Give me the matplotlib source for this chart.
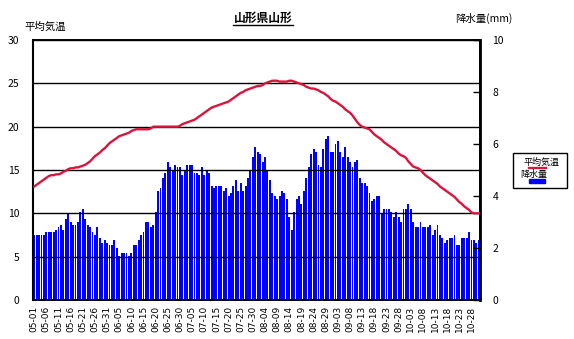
import matplotlib
matplotlib.use("Agg")
import matplotlib.pyplot as plt
from matplotlib.lines import Line2D
from matplotlib.patches import Rectangle
import pandas as pd

plt.rcParams['font.family'] = ['Noto Sans CJK JP', 'DejaVu Sans']

# 日付 (05-01 〜 10-31)
days = list(pd.date_range("2001-05-01", "2001-10-31").strftime("%m-%d"))

# 平均気温 (℃)
temp = [
    13.1, 13.3, 13.5, 13.7, 13.9, 14.1, 14.3, 14.4, 14.4, 14.5,
    14.5, 14.6, 14.8, 14.9, 15.1, 15.2, 15.2, 15.3, 15.3, 15.4,
    15.5, 15.6, 15.8, 16.0, 16.3, 16.6, 16.8, 17.0, 17.3, 17.5,
    17.8, 18.1, 18.3, 18.5, 18.7, 18.9, 19.0, 19.1, 19.2, 19.3,
    19.5, 19.6, 19.7, 19.7, 19.7, 19.7, 19.7, 19.7, 19.8, 20.0,
    20.0, 20.0, 20.0, 20.0, 20.0, 20.0, 20.0, 20.0, 20.0, 20.0,
    20.1, 20.3, 20.4, 20.5, 20.6, 20.7, 20.8, 21.0, 21.2, 21.4,
    21.6, 21.8, 22.0, 22.2, 22.3, 22.4, 22.5, 22.6, 22.7, 22.8,
    22.9, 23.1, 23.3, 23.5, 23.7, 23.9, 24.0, 24.2, 24.3, 24.4,
    24.5, 24.6, 24.7, 24.7, 24.8, 25.0, 25.1, 25.2, 25.3, 25.3,
    25.3, 25.2, 25.2, 25.2, 25.2, 25.3, 25.3, 25.2, 25.1, 25.0,
    24.9, 24.8, 24.6, 24.5, 24.4, 24.4, 24.3, 24.2, 24.0, 23.9,
    23.7, 23.5, 23.2, 23.0, 22.9, 22.7, 22.5, 22.3, 22.0, 21.8,
    21.6, 21.3, 20.9, 20.5, 20.2, 20.0, 19.9, 19.8, 19.7, 19.4,
    19.1, 18.9, 18.7, 18.5, 18.2, 18.0, 17.8, 17.6, 17.4, 17.2,
    16.9, 16.7, 16.6, 16.4, 16.0, 15.7, 15.4, 15.3, 15.2, 15.0,
    14.7, 14.4, 14.2, 14.0, 13.8, 13.6, 13.4, 13.1, 12.9, 12.7,
    12.5, 12.3, 12.1, 11.9, 11.6, 11.3, 11.1, 10.8, 10.6, 10.4,
    10.1, 10.0, 10.0, 10.0,
]

# 降水量 (mm)
rain = [
    2.5, 2.5, 2.5, 2.5, 2.5, 2.6, 2.6, 2.6, 2.6, 2.7,
    2.8, 2.9, 2.7, 3.1, 3.3, 3.0, 2.9, 2.9, 3.0, 3.4,
    3.5, 3.1, 2.9, 2.8, 2.6, 2.5, 2.8, 2.4, 2.2, 2.3,
    2.2, 2.1, 2.1, 2.3, 2.0, 1.7, 1.8, 1.8, 1.8, 1.7,
    1.8, 2.1, 2.1, 2.3, 2.5, 2.6, 3.0, 3.0, 2.8, 2.9,
    3.4, 4.2, 4.3, 4.7, 4.9, 5.3, 5.1, 5.0, 5.2, 5.1,
    5.1, 4.8, 5.0, 5.2, 5.2, 5.2, 4.9, 4.9, 4.8, 5.1,
    4.8, 5.0, 4.9, 4.4, 4.3, 4.4, 4.4, 4.4, 4.2, 4.3,
    4.0, 4.1, 4.4, 4.6, 4.2, 4.5, 4.2, 4.4, 4.7, 5.0,
    5.5, 5.9, 5.7, 5.6, 5.3, 5.5, 5.0, 4.6, 4.1, 4.0,
    3.9, 4.0, 4.2, 4.1, 3.9, 3.2, 2.7, 3.4, 3.9, 4.0,
    3.7, 4.2, 4.7, 5.1, 5.6, 5.8, 5.7, 5.2, 5.1, 5.8,
    6.2, 6.3, 5.7, 5.7, 6.0, 6.1, 5.7, 5.5, 5.9, 5.5,
    5.3, 5.1, 5.3, 5.4, 4.7, 4.5, 4.5, 4.4, 4.1, 3.8,
    3.9, 4.0, 4.0, 3.3, 3.5, 3.5, 3.5, 3.4, 3.2, 3.4,
    3.2, 3.0, 3.5, 3.5, 3.7, 3.5, 3.0, 2.8, 2.8, 3.0,
    2.8, 2.8, 2.8, 2.9, 2.5, 2.7, 2.9, 2.5, 2.4, 2.2,
    2.3, 2.4, 2.4, 2.5, 2.1, 2.1, 2.4, 2.4, 2.4, 2.6,
    2.3, 2.3, 2.2, 2.3,
]

tick_labels = [
    "05-01", "05-06", "05-11", "05-16", "05-21", "05-26", "05-31",
    "06-05", "06-10", "06-15", "06-20", "06-25", "06-30",
    "07-05", "07-10", "07-15", "07-20", "07-25", "07-30",
    "08-04", "08-09", "08-14", "08-19", "08-24", "08-29",
    "09-03", "09-08", "09-13", "09-18", "09-23", "09-28",
    "10-03", "10-08", "10-13", "10-18", "10-23", "10-28",
]

x = list(range(len(days)))
tick_pos = [days.index(t) for t in tick_labels]

fig = plt.figure(figsize=(5.74, 3.39), dpi=100)
W, H = 574, 339
ax = fig.add_axes([33 / W, 1 - 300 / H, (480 - 33) / W, (300 - 40) / H])
ax2 = ax.twinx()

# 降水量 (右軸)
ax.bar(x, rain, width=0.78, color='#0000FF', zorder=1)
ax.set_ylim(0, 10)
ax.set_xlim(-0.5, len(days) - 0.5)
ax.set_xticks(tick_pos)
ax.set_xticklabels(tick_labels, rotation=90, fontsize=6.5, family='DejaVu Sans')
ax.tick_params(axis='x', length=0, pad=4)

# 平均気温 (左軸)
ax2.set_ylim(0, 30)
ax2.set_yticks(range(0, 31, 5))
ax2.grid(axis='y', color='black', linewidth=1)
ax2.set_axisbelow(True)
ax2.plot(x, temp, color='#DC143C', linewidth=1.7, zorder=3)

# 軸の左右を入れ替え
ax.yaxis.tick_right()
ax.set_yticks([0, 2, 4, 6, 8, 10])
ax.tick_params(axis='y', which='both', left=False, labelleft=False,
               right=True, labelright=True,
               direction='in', length=5, width=1, pad=9, labelsize=7.5)
ax2.yaxis.tick_left()
ax2.tick_params(axis='y', which='both', right=False, labelright=False,
                left=True, labelleft=True, length=0, pad=10, labelsize=7.5)

for a in (ax, ax2):
    for s in a.spines.values():
        s.set_color('black')
        s.set_linewidth(1.2)
ax2.spines['right'].set_linewidth(2)
ax2.spines['left'].set_linewidth(1.5)

# 見出し
fig.text(263 / W, 1 - 18 / H, "山形県山形", ha='center', va='center',
         fontsize=8.5, fontweight='bold')
fig.add_artist(Line2D([233 / W, 293 / W], [1 - 25 / H, 1 - 25 / H],
                      color='black', linewidth=1))
fig.text(45 / W, 1 - 27 / H, "平均気温", ha='center', va='center', fontsize=7.5)
fig.text(484 / W, 1 - 18 / H, "降水量(mm)", ha='center', va='center', fontsize=7.5)

# 凡例
fig.add_artist(Rectangle((513 / W, 1 - 188 / H), 54 / W, 35 / H,
                         transform=fig.transFigure, fill=False,
                         edgecolor='black', linewidth=1))
fig.text(541 / W, 1 - 162 / H, "平均気温", ha='center', va='center', fontsize=6.5)
fig.add_artist(Line2D([529 / W, 546 / W], [1 - 168 / H, 1 - 168 / H],
                      color='#DC143C', linewidth=1.7))
fig.text(534 / W, 1 - 174 / H, "降水量", ha='center', va='center', fontsize=6.5)
fig.add_artist(Rectangle((529 / W, 1 - 183 / H), 16 / W, 3.5 / H,
                         transform=fig.transFigure, color='#0000FF'))

fig.savefig("out.png", dpi=100)
